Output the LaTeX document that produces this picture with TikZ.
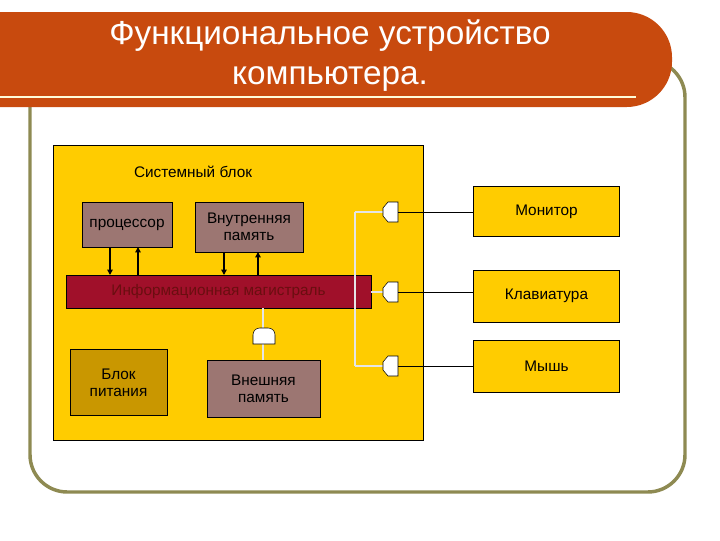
\documentclass[tikz,border=0pt]{standalone}
\usepackage{fontspec}
\setmainfont{Liberation Sans}
\usetikzlibrary{arrows.meta}
\definecolor{banner}{HTML}{C84A0E}
\definecolor{olive}{HTML}{8E8A52}
\definecolor{gold}{HTML}{FFCC00}
\definecolor{mauve}{HTML}{9C7672}
\definecolor{darkgold}{HTML}{C99700}
\definecolor{busred}{HTML}{A0102A}
\definecolor{bustext}{HTML}{6A0E10}
\begin{document}
\begin{tikzpicture}[x=0.75pt,y=-0.75pt,
  box/.style={draw=black,line width=0.6pt,minimum width=#1,align=center,font=\fontsize{11.5}{13}\selectfont,inner sep=1pt},
  unit/.style={box=#1,fill=mauve},
  periph/.style={box=#1,fill=gold},
  arr/.style={-{Triangle[length=4pt,width=4pt]},line width=1.3pt},
  port/.style={draw=black,fill=white,line width=0.4pt},
  wire/.style={draw=white!90!black,line width=0.8pt}]
\useasboundingbox (0,0) rectangle (720,540);
% olive frame
\draw[olive,line width=2.6pt,rounded corners=28pt] (30,60) rectangle (685,492);
% banner
\fill[banner] (0,12) [rounded corners=34pt] -- (672,12) -- (672,107) [sharp corners] -- (0,107) -- cycle;
\draw[white!85!yellow,line width=1.3pt] (0,97) -- (636,97);
\node[text=white,font=\fontsize{25}{30}\selectfont,align=center] (title) at (330,56) {Функциональное устройство\\компьютера.};
% system block
\node[draw=black,fill=gold,minimum width=277.5pt,minimum height=221pt,inner sep=0pt] (sys) at (238,292.5) {};
\node[font=\fontsize{11.5}{13}\selectfont] (syslabel) at (193,172) {Системный блок};
% units
\node[unit=67.5pt,minimum height=33.75pt] (cpu) at (127,224.5) {процессор};
\node[unit=81pt,minimum height=37.5pt] (ram) at (249,227) {Внутренняя\\память};
\node[draw=black,line width=0.4pt,fill=busred,minimum width=229pt,minimum height=24.75pt,inner sep=0pt,text=bustext,font=\fontsize{11.5}{13}\selectfont] (bus) at (218.5,291.5) {Информационная магистраль};
\node[box=72.75pt,fill=darkgold,minimum height=50pt] (psu) at (118.5,382.5) {Блок\\питания};
\node[unit=84.75pt,minimum height=42.75pt] (ext) at (263.5,388.5) {Внешняя\\память};
% arrows
\draw[arr] (110,247) -- (110,275);
\draw[arr] (138,275) -- (138,247);
\draw[arr,line width=2.2pt] (224,252) -- (224,275);
\draw[arr] (258,275) -- (258,252);
% external memory port
\draw[wire] (263,308) -- (263,360);
\draw[port] (253,344) [rounded corners=5pt] -- (253,328) -- (275,328) [sharp corners] -- (275,344) -- cycle;
% right wiring
\draw[wire] (371,292) -- (385,292);
\draw[wire] (355,212) -- (355,366);
\draw[wire] (355,212) -- (385,212);
\draw[wire] (355,366) -- (385,366);
\foreach \y/\n in {212/p1,292/p2,366/p3}{
  \draw[port] (398,\y-10) -- (388,\y-10) -- (383,\y-4) -- (383,\y+4) -- (388,\y+10) -- (398,\y+10) -- cycle;
  \coordinate (\n) at (398,\y);
}
% peripherals
\node[periph=110pt,minimum height=38pt] (mon) at (546.5,211.5) {Монитор};
\node[periph=110pt,minimum height=39pt] (kbd) at (546.5,296) {Клавиатура};
\node[periph=110pt,minimum height=39pt] (mouse) at (546.5,366) {Мышь};
\draw[line width=0.5pt] (p1) -- (mon.west |- p1);
\draw[line width=0.5pt] (p2) -- (kbd.west |- p2);
\draw[line width=0.5pt] (p3) -- (mouse.west |- p3);
\end{tikzpicture}
\end{document}
